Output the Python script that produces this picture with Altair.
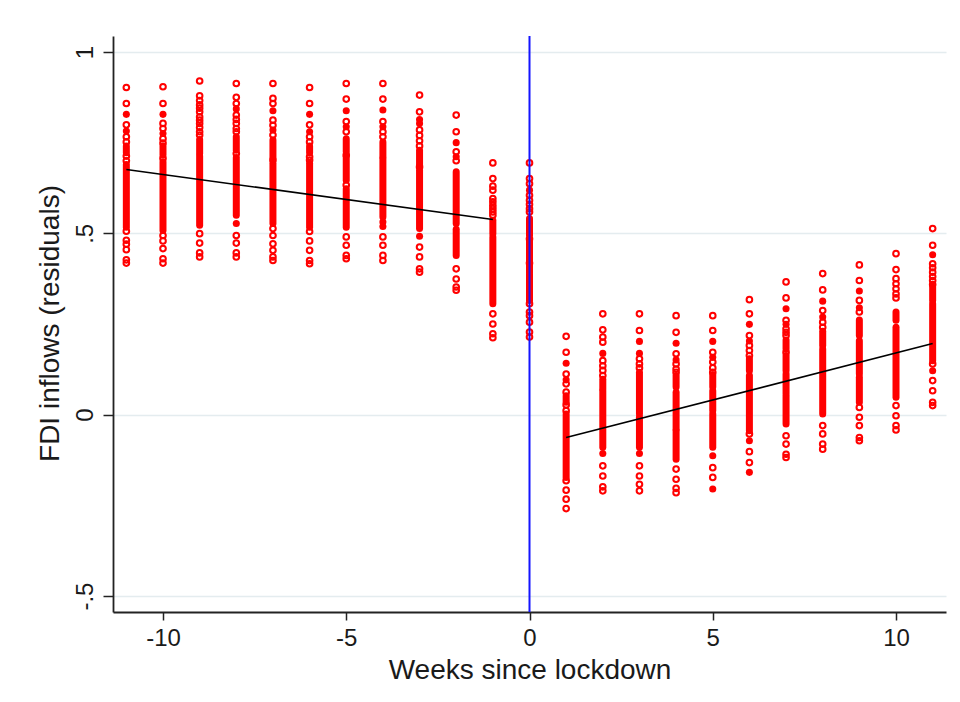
import altair as alt
import pandas as pd

# ---- data ----
weeks = list(range(-11, 12))

# dense runs of overlapping markers per week: (low, high)
dense_runs = {
    -11: [(0.722, 0.741), (0.517, 0.690)],
    -10: [(0.716, 0.741), (0.508, 0.697)],
    -9: [(0.720, 0.759), (0.522, 0.713)],
    -8: [(0.729, 0.766), (0.550, 0.709)],
    -7: [(0.709, 0.757), (0.527, 0.693)],
    -6: [(0.722, 0.741), (0.517, 0.693)],
    -5: [(0.725, 0.761), (0.646, 0.711), (0.517, 0.623)],
    -4: [(0.711, 0.752), (0.545, 0.706)],
    -3: [(0.688, 0.729), (0.513, 0.674)],
    -2: [(0.527, 0.670), (0.439, 0.511)],
    -1: [(0.499, 0.536), (0.306, 0.490)],
    0: [(0.495, 0.541), (0.425, 0.481), (0.393, 0.414), (0.315, 0.388)],
    1: [(0.034, 0.052), (-0.173, 0.002)],
    2: [(0.071, 0.098), (-0.090, 0.066)],
    3: [(0.002, 0.117), (-0.090, -0.007)],
    4: [(0.076, 0.108), (-0.040, 0.062), (-0.123, -0.044)],
    5: [(0.076, 0.110), (0.011, 0.066), (-0.090, 0.002)],
    6: [(0.121, 0.154), (-0.044, 0.108)],
    7: [(0.181, 0.206), (0.121, 0.163), (0.057, 0.112), (-0.026, 0.050)],
    8: [(0.191, 0.230), (0.002, 0.181)],
    9: [(0.218, 0.261), (0.112, 0.204), (0.034, 0.103)],
    10: [(0.260, 0.283), (0.048, 0.241)],
    11: [(0.315, 0.352), (0.149, 0.306)],
}

# isolated (hollow) markers per week
hollow_pts = {
    -11: [0.902, 0.858, 0.799, 0.766, 0.752, 0.713, 0.700, 0.506, 0.481, 0.470, 0.455, 0.427, 0.418],
    -10: [0.904, 0.858, 0.803, 0.789, 0.761, 0.749, 0.707, 0.494, 0.479, 0.458, 0.430, 0.418],
    -9: [0.920, 0.879, 0.866, 0.854, 0.845, 0.835, 0.821, 0.812, 0.803, 0.792, 0.780, 0.771, 0.499, 0.473, 0.446, 0.435],
    -8: [0.913, 0.875, 0.858, 0.826, 0.814, 0.803, 0.789, 0.780, 0.720, 0.494, 0.473, 0.446, 0.435],
    -7: [0.913, 0.872, 0.858, 0.812, 0.798, 0.771, 0.702, 0.513, 0.494, 0.471, 0.453, 0.435, 0.425],
    -6: [0.902, 0.858, 0.799, 0.766, 0.752, 0.711, 0.702, 0.505, 0.479, 0.453, 0.425, 0.416],
    -5: [0.913, 0.870, 0.808, 0.780, 0.716, 0.633, 0.490, 0.467, 0.439, 0.430],
    -4: [0.913, 0.870, 0.808, 0.780, 0.766, 0.490, 0.467, 0.439, 0.425],
    -3: [0.881, 0.835, 0.785, 0.770, 0.755, 0.741, 0.683, 0.462, 0.435, 0.402, 0.393],
    -2: [0.826, 0.780, 0.725, 0.700, 0.402, 0.374, 0.352, 0.343],
    -1: [0.694, 0.651, 0.630, 0.619, 0.596, 0.587, 0.577, 0.568, 0.559, 0.550, 0.278, 0.250, 0.223, 0.212],
    0: [0.694, 0.651, 0.637, 0.605, 0.591, 0.580, 0.568, 0.559, 0.485, 0.418, 0.306, 0.283, 0.273, 0.255, 0.228, 0.214],
    1: [0.216, 0.172, 0.112, 0.085, 0.062, 0.027, 0.011, -0.182, -0.208, -0.233, -0.259],
    2: [0.278, 0.234, 0.214, 0.200, 0.149, 0.135, 0.122, 0.108, -0.141, -0.169, -0.199, -0.210],
    3: [0.278, 0.232, 0.154, 0.140, 0.129, -0.141, -0.169, -0.192, -0.210],
    4: [0.273, 0.227, 0.168, 0.140, 0.126, 0.117, -0.150, -0.178, -0.203, -0.215],
    5: [0.273, 0.232, 0.172, 0.145, 0.129, 0.117, -0.146, -0.173],
    6: [0.317, 0.278, 0.218, 0.191, 0.177, 0.163, -0.053, -0.102, -0.132],
    7: [0.366, 0.322, 0.260, 0.237, 0.227, 0.218, 0.172, -0.058, -0.081, -0.109, -0.118],
    8: [0.389, 0.344, 0.287, 0.255, 0.241, -0.030, -0.053, -0.081, -0.095],
    9: [0.413, 0.370, 0.315, 0.283, 0.020, -0.007, -0.030, -0.063, -0.072],
    10: [0.444, 0.400, 0.375, 0.361, 0.347, 0.333, 0.322, 0.025, -0.003, -0.030, -0.042],
    11: [0.513, 0.467, 0.416, 0.405, 0.393, 0.381, 0.370, 0.359, 0.140, 0.094, 0.066, 0.034, 0.025],
}

# overlapping (solid looking) isolated markers per week
solid_pts = {
    -11: [0.828, 0.782], -10: [0.828, 0.775], -9: [], -8: [0.843, 0.527],
    -7: [0.838, 0.785], -6: [0.828, 0.780], -5: [0.838, 0.794],
    -4: [0.840, 0.794, 0.531, 0.519], -3: [0.814, 0.803, 0.492], -2: [0.750, 0.711],
    -1: [], 0: [0.619], 1: [0.142, 0.096], 2: [0.169, -0.107], 3: [0.202, 0.169, -0.107],
    4: [0.197, 0.151], 5: [0.202, 0.158, -0.113, -0.205], 6: [0.249, 0.203, -0.072, -0.159],
    7: [0.292, 0.249], 8: [0.313, 0.269], 9: [0.341, 0.295], 10: [], 11: [0.441, 0.121],
}

# fitted lines before / after lockdown
fit_week = [-11, -1, 1, 11]
fit_value = [0.676, 0.538, -0.063, 0.196]
fit_side = ["before", "before", "after", "after"]

lockdown_week = [0]

# ---- build tables ----
seg_rows = [{"week": w, "lo": lo, "hi": hi} for w in weeks for (lo, hi) in dense_runs[w]]
hollow_rows = [{"week": w, "value": v} for w in weeks for v in hollow_pts[w]]
solid_rows = [{"week": w, "value": v} for w in weeks for v in solid_pts[w]]
seg_df = pd.DataFrame(seg_rows)
hollow_df = pd.DataFrame(hollow_rows)
solid_df = pd.DataFrame(solid_rows)
fit_df = pd.DataFrame({"week": fit_week, "value": fit_value, "side": fit_side})
vline_df = pd.DataFrame({"week": lockdown_week})

RED = "#ff0000"
FONT = "Liberation Sans"

xscale = alt.Scale(domain=[-11.364, 11.364], nice=False, zero=False)
yscale = alt.Scale(domain=[-0.544, 1.044], nice=False, zero=False)

xaxis = alt.Axis(
    values=[-10, -5, 0, 5, 10],
    labelExpr="datum.value + ''",
    title="Weeks since lockdown",
    grid=False,
    tickSize=8, tickColor="#222", tickWidth=1.5,
    domainColor="#222", domainWidth=1.8,
    labelFont=FONT, labelFontSize=24, labelColor="#1a1a1a", labelPadding=6,
    titleFont=FONT, titleFontSize=28, titleFontWeight="normal", titleColor="#1a1a1a",
    titleBaseline="alphabetic", titleY=66,
)
yaxis = alt.Axis(
    values=[-0.5, 0, 0.5, 1],
    labelExpr="datum.value == 1 ? '1' : datum.value == 0.5 ? '.5' : datum.value == 0 ? '0' : '-.5'",
    title="FDI inflows (residuals)",
    grid=True, gridColor="#e4ecef", gridWidth=1.5,
    tickSize=10, tickColor="#222", tickWidth=1.5,
    domainColor="#222", domainWidth=1.8,
    labelAngle=-90, labelAlign="center", labelBaseline="alphabetic", labelPadding=11,
    labelFont=FONT, labelFontSize=24, labelColor="#1a1a1a",
    titleFont=FONT, titleFontSize=28, titleFontWeight="normal", titleColor="#1a1a1a",
    titleAngle=270, titleAlign="center", titleBaseline="alphabetic", titleX=-55, titleY=287,
)

base_x = alt.X("week:Q", scale=xscale, axis=xaxis)

dense_layer = alt.Chart(seg_df).mark_rule(color=RED, strokeWidth=7, strokeCap="round").encode(
    x=base_x,
    y=alt.Y("lo:Q", scale=yscale, axis=yaxis),
    y2="hi:Q",
)
hollow_layer = alt.Chart(hollow_df).mark_point(
    shape="circle", filled=False, color=RED, size=32, strokeWidth=2, opacity=1
).encode(x=alt.X("week:Q", scale=xscale), y=alt.Y("value:Q", scale=yscale))
solid_layer = alt.Chart(solid_df).mark_point(
    shape="circle", filled=True, color=RED, size=50, opacity=1
).encode(x=alt.X("week:Q", scale=xscale), y=alt.Y("value:Q", scale=yscale))
vline = alt.Chart(vline_df).mark_rule(color="#1414ff", strokeWidth=2).encode(
    x=alt.X("week:Q", scale=xscale)
)
fit_layer = alt.Chart(fit_df).mark_line(color="black", strokeWidth=1.6).encode(
    x=alt.X("week:Q", scale=xscale),
    y=alt.Y("value:Q", scale=yscale),
    detail="side:N",
)

chart = alt.layer(dense_layer, hollow_layer, solid_layer, vline, fit_layer).properties(
    width=833,
    height=576,
    autosize=alt.AutoSizeParams(type="none"),
    padding={"left": 105, "top": 28, "right": 6, "bottom": 82},
    background="white",
).configure_view(stroke=None)

chart.save("out.html", embed_options={"renderer": "svg", "actions": False})
